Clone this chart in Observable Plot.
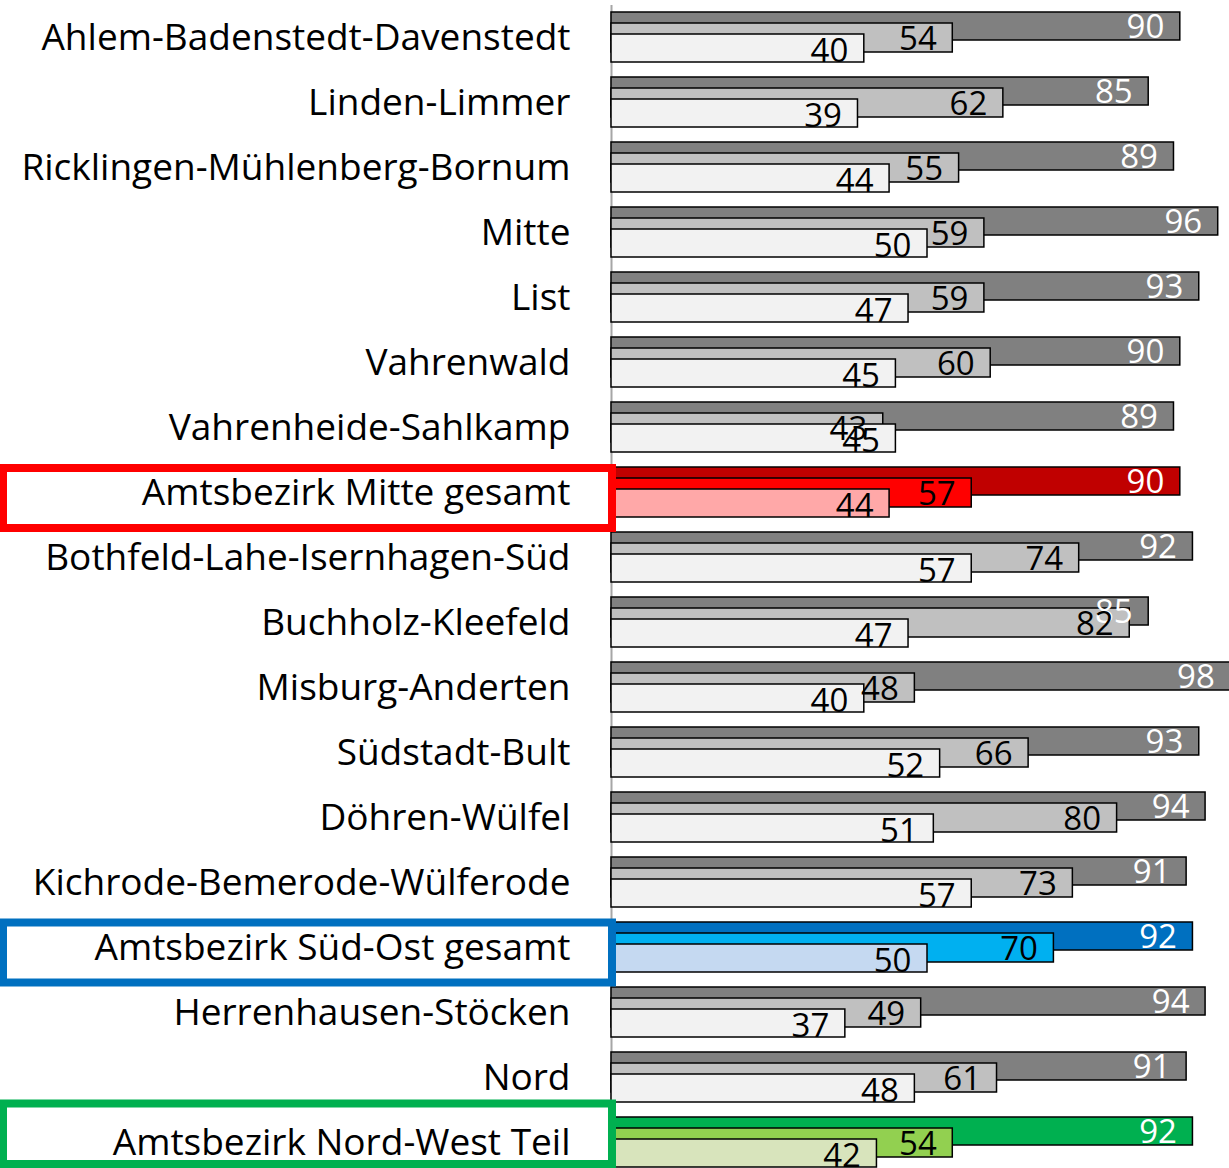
<!DOCTYPE html>
<html>
<head>
<meta charset="utf-8">
<script src="https://cdn.jsdelivr.net/npm/d3@7"></script>
<script src="https://cdn.jsdelivr.net/npm/@observablehq/plot@0.6"></script>
<style>
  html, body { margin: 0; padding: 0; background: #fff; }
  #chart svg { display: block; }
</style>
</head>
<body>
<div id="chart"></div>
<script>
const categories = [
  "Ahlem-Badenstedt-Davenstedt",
  "Linden-Limmer",
  "Ricklingen-Mühlenberg-Bornum",
  "Mitte",
  "List",
  "Vahrenwald",
  "Vahrenheide-Sahlkamp",
  "Amtsbezirk Mitte gesamt",
  "Bothfeld-Lahe-Isernhagen-Süd",
  "Buchholz-Kleefeld",
  "Misburg-Anderten",
  "Südstadt-Bult",
  "Döhren-Wülfel",
  "Kichrode-Bemerode-Wülferode",
  "Amtsbezirk Süd-Ost gesamt",
  "Herrenhausen-Stöcken",
  "Nord",
  "Amtsbezirk Nord-West Teil"
];
const seriesDark  = [90, 85, 89, 96, 93, 90, 89, 90, 92, 85, 98, 93, 94, 91, 92, 94, 91, 92];
const seriesMid   = [54, 62, 55, 59, 59, 60, 43, 57, 74, 82, 48, 66, 80, 73, 70, 49, 61, 54];
const seriesLight = [40, 39, 44, 50, 47, 45, 45, 44, 57, 47, 40, 52, 51, 57, 50, 37, 48, 42];

const highlightCats = ["Amtsbezirk Mitte gesamt", "Amtsbezirk Süd-Ost gesamt", "Amtsbezirk Nord-West Teil"];
const highlightFrame = ["#ff0000", "#0070c0", "#00b050"];
// palettes: [dark, mid, light]
const paletteGray  = ["#808080", "#c0c0c0", "#f2f2f2"];
const paletteHigh  = [
  ["#c00000", "#ff0000", "#ffa8a8"],
  ["#0070c0", "#00b0f0", "#c5d9f1"],
  ["#00b050", "#92d050", "#d8e4bc"]
];

function colorFor(cat, k) {
  const h = highlightCats.indexOf(cat);
  return h >= 0 ? paletteHigh[h][k] : paletteGray[k];
}

const rowsDark  = categories.map((c, i) => ({cat: c, value: seriesDark[i],  fill: colorFor(c, 0)}));
const rowsMid   = categories.map((c, i) => ({cat: c, value: seriesMid[i],   fill: colorFor(c, 1)}));
const rowsLight = categories.map((c, i) => ({cat: c, value: seriesLight[i], fill: colorFor(c, 2)}));

const FONT = "'Open Sans', sans-serif";
const barStyle = {stroke: "#000", strokeWidth: 1.5};

const boxInsets = [
  {top: 13, bottom: -8},
  {top: 12.5, bottom: -7.5},
  {top: -1.5, bottom: 6}
];

const plot = Plot.plot({
  width: 1229,
  height: 1168,
  marginTop: 0, marginBottom: 0, marginLeft: 611, marginRight: 0,
  style: {fontFamily: FONT, background: "#fff", overflow: "visible"},
  x: {domain: [0, 100], range: [611, 1243], axis: null},
  y: {domain: categories, range: [0, 1170], padding: 0, axis: null},
  color: {type: "identity"},
  marks: [
    Plot.ruleX([0], {stroke: "#a6a6a6", strokeWidth: 2, insetTop: 5}),
    Plot.barX(rowsDark,  {x: "value", y: "cat", fill: "fill", insetTop: 12, insetBottom: 25, ...barStyle}),
    Plot.barX(rowsMid,   {x: "value", y: "cat", fill: "fill", insetTop: 23, insetBottom: 13, ...barStyle}),
    Plot.barX(rowsLight, {x: "value", y: "cat", fill: "fill", insetTop: 34, insetBottom: 3,  ...barStyle}),
    ...highlightCats.map((c, i) => Plot.barX([c], {
      x1: () => 0, x2: () => 0, y: d => d,
      fill: "none", stroke: highlightFrame[i], strokeWidth: 8,
      insetLeft: -608, insetRight: -1,
      insetTop: boxInsets[i].top, insetBottom: boxInsets[i].bottom
    })),
    Plot.text(categories, {
      x: () => 0, y: d => d, text: d => d,
      textAnchor: "end", dx: -41, dy: 5,
      fontSize: 37, fill: "#000"
    }),
    Plot.text(rowsDark,  {x: "value", y: "cat", text: "value", textAnchor: "end", dx: -16, dy: -6, fontSize: 33, fill: "#fff"}),
    Plot.text(rowsMid,   {x: "value", y: "cat", text: "value", textAnchor: "end", dx: -16, dy: 6,  fontSize: 33, fill: "#000"}),
    Plot.text(rowsLight, {x: "value", y: "cat", text: "value", textAnchor: "end", dx: -16, dy: 18, fontSize: 33, fill: "#000"})
  ]
});
document.getElementById("chart").appendChild(plot);
</script>
</body>
</html>
